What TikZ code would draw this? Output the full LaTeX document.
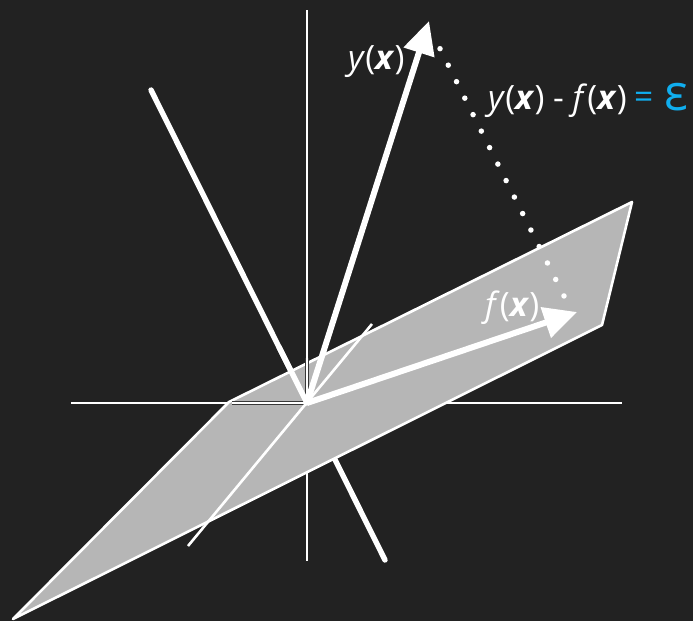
\documentclass[tikz,border=0pt]{standalone}
\usepackage{fontspec}
\setmainfont{Open Sans}
\usetikzlibrary{arrows.meta}
\definecolor{bgc}{HTML}{222222}
\definecolor{planec}{HTML}{B6B6B6}
\definecolor{blueink}{HTML}{10AEEF}
\tikzset{
  axis/.style={draw=white,line width=2.4pt},
  axishalo/.style={draw=black!70!planec,line width=4.6pt},
  thick line/.style={draw=white,line width=5.4pt,line cap=round},
  vec/.style={draw=white,line width=6pt,-{Triangle[length=33pt,width=31pt,fill=white]}},
  lab/.style={text=white,font=\fontsize{33.5}{36}\selectfont,inner sep=0pt,anchor=base west},
  dotted path/.style={draw=white,line width=5.5pt,line cap=round,dash pattern=on 0pt off 18.44pt},
}
\begin{document}
\begin{tikzpicture}[x=1pt,y=-1pt]
\useasboundingbox (0,0) rectangle (693,621);
\fill[bgc] (0,0) rectangle (693,621);
\coordinate (O) at (307,403);
\coordinate (L) at (71,403);
\coordinate (R) at (622,403);
\coordinate (T) at (307,10);
\coordinate (B) at (307,561);
\coordinate (P1) at (13,619);
\coordinate (P2) at (229,402);
\coordinate (P3) at (632,202);
\coordinate (P4) at (602,325);
\coordinate (D1) at (151,90);
\coordinate (D2) at (385,560);
\coordinate (E1) at (188,546);
\coordinate (E2) at (372,324);
\coordinate (Y) at (429,21);
\coordinate (F) at (577,312);
\coordinate (Q1) at (440,48.7);
\coordinate (Q2) at (564,296);
% behind the plane
\draw[axis] (L) -- (R);
\draw[axis] (T) -- (B);
\draw[thick line] (D1) -- (D2);
% plane
\draw[fill=planec,draw=white,line width=2.6pt,line join=round] (P1) -- (P2) -- (P3) -- (P4) -- cycle;
% in front of the plane
\draw[axishalo] (232,403) -- (O);
\draw[axishalo] (307,358) -- (O);
\draw[axis] (232,403) -- (O);
\draw[axis] (307,358) -- (O);
\draw[draw=white,line width=2.6pt] (E1) -- (E2);
\draw[thick line] (279,347) -- (O);
\draw[dotted path] (Q1) -- (Q2);
\draw[vec] (O) -- (Y);
\draw[vec] (O) -- (F);
\node[lab] (ylab) at (348,69) {\textit{y}(\textbf{\textit{x}})};
\node[lab] (dlab) at (488,109) {\textit{y}(\textbf{\textit{x}}) - \textit{f}(\textbf{\textit{x}})};
\node[lab,text=blueink] (eq) at (634,108) {=};
\node[lab,text=blueink,font=\fontsize{50}{52}\selectfont] (eps) at (664,110) {ε};
\node[lab] (flab) at (485,316) {\textit{f}(\textbf{\textit{x}})};
\end{tikzpicture}
\end{document}
